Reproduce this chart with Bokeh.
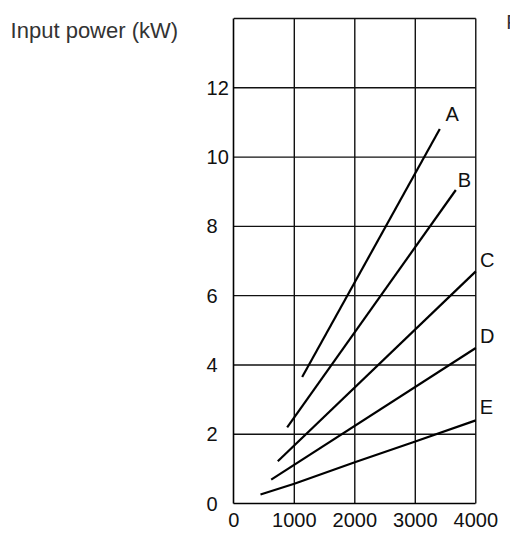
from bokeh.plotting import figure
from bokeh.models import Range1d, FixedTicker, Label, LabelSet, ColumnDataSource
from bokeh.embed import file_html
from bokeh.resources import INLINE
from bokeh.core.properties import value

# Data (x: speed, y: input power in kW)
a_x = [1130, 3405]
a_y = [3.65, 10.81]
b_x = [882, 3670]
b_y = [2.20, 9.05]
c_x = [727, 4000]
c_y = [1.22, 6.70]
d_x = [618, 4000]
d_y = [0.69, 4.49]
e_x = [441, 1000, 2000, 3000, 4000]
e_y = [0.26, 0.57, 1.19, 1.79, 2.40]

curve_names = ["A", "B", "C", "D", "E"]
name_x = [3610, 3813, 4188, 4188, 4177]
name_y = [11.03, 9.15, 6.84, 4.62, 2.58]

x_ticks = [0, 1000, 2000, 3000, 4000]
y_ticks = [0, 2, 4, 6, 8, 10, 12]
y_tick_labels = ["0", "2", "4", "6", "8", "10", "12"]
x_grid = [1000, 2000, 3000, 4000]
y_grid = [2, 4, 6, 8, 10, 12, 14]

FONT = "Liberation Sans"
FIGSP = "\u2007"  # figure space: keeps one-digit labels left-aligned like the original

p = figure(width=510, height=547, output_backend="svg", toolbar_location=None,
           x_range=Range1d(-3857, 4574), y_range=Range1d(-1.27, 14.52),
           min_border=0)
p.background_fill_color = "white"
p.border_fill_color = "white"
p.outline_line_color = None
p.grid.grid_line_color = None

x_lo, x_hi = x_ticks[0], x_ticks[-1]
y_lo, y_hi = y_ticks[0], y_grid[-1]

p.xaxis.ticker = FixedTicker(ticks=x_ticks)
p.yaxis.ticker = FixedTicker(ticks=y_ticks)
p.yaxis.major_label_overrides = {
    t: (s if len(s) > 1 else s + FIGSP) for t, s in zip(y_ticks, y_tick_labels)
}
p.xaxis.fixed_location = y_lo
p.yaxis.fixed_location = x_lo
p.xaxis.bounds = (x_lo, x_hi)
p.yaxis.bounds = (y_lo, y_hi)

# grid lines limited to the chart box
p.segment(x0=x_grid, y0=[y_lo] * len(x_grid), x1=x_grid, y1=[y_hi] * len(x_grid),
          line_color="#111111", line_width=1.4)
p.segment(x0=[x_lo] * len(y_grid), y0=y_grid, x1=[x_hi] * len(y_grid), y1=y_grid,
          line_color="#111111", line_width=1.4)

for ax in (p.xaxis, p.yaxis):
    ax.axis_line_color = "black"
    ax.axis_line_width = 1.6
    ax.major_tick_out = 0
    ax.major_tick_in = 0
    ax.minor_tick_out = 0
    ax.minor_tick_in = 0
    ax.major_label_text_font = FONT
    ax.major_label_text_color = "#111111"
    ax.major_label_text_font_size = "20px"
p.xaxis.major_label_standoff = 9
p.yaxis.major_label_standoff = 5

for xs, ys in ((a_x, a_y), (b_x, b_y), (c_x, c_y), (d_x, d_y), (e_x, e_y)):
    p.line(xs, ys, line_color="black", line_width=2.2)

src = ColumnDataSource(data=dict(x=name_x, y=name_y, t=curve_names))
p.add_layout(LabelSet(x="x", y="y", text="t", source=src, text_align="center",
                      text_baseline="alphabetic", text_font=value(FONT),
                      text_font_size="20px", text_color="#111111"))

p.add_layout(Label(x=-3690, y=13.65, text="Input power (kW)", text_font=FONT,
                   text_font_size="22px", text_color="#333333",
                   text_align="left", text_baseline="alphabetic"))
p.add_layout(Label(x=4502, y=13.91, text="F", text_font=FONT,
                   text_font_size="20px", text_color="#333333",
                   text_align="left", text_baseline="alphabetic"))

open("out.html", "w").write(file_html(p, INLINE))
